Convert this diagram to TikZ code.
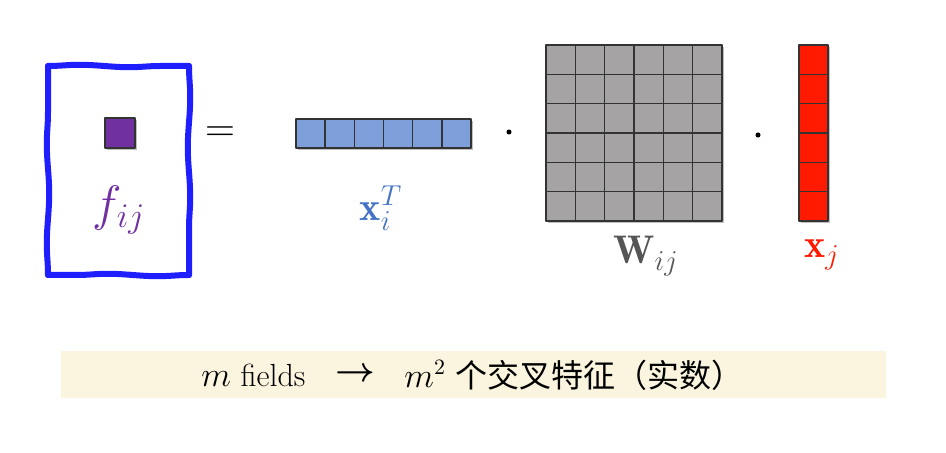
\documentclass[tikz,border=0pt]{standalone}
\usepackage{amsmath}
\usepackage{fontspec}
\newfontfamily\cjk{Noto Sans CJK SC}
\usetikzlibrary{decorations.pathmorphing}
\definecolor{frameblue}{HTML}{1E1EFF}
\definecolor{fpurple}{HTML}{7030A0}
\definecolor{rowblue}{HTML}{7F9FDB}
\definecolor{labblue}{HTML}{4472C4}
\definecolor{wgrey}{HTML}{A5A3A4}
\definecolor{labgrey}{HTML}{555555}
\definecolor{colred}{HTML}{FF1A00}
\definecolor{band}{HTML}{FBF5DF}
\tikzset{
  cell/.style={draw=black!80, line width=0.7pt},
  shade box/.style={fill=black, opacity=.25},
  wavy/.style={frameblue, line width=3pt, line cap=round, decorate, decoration={snake, segment length=50pt, amplitude=0.6pt}},
  lab/.style={font=\fontsize{20}{24}\selectfont, inner sep=0pt},
  bandtext/.style={inner sep=0pt, font=\fontsize{16}{19}\selectfont}
}
\begin{document}
\begin{tikzpicture}[x=0.5pt, y=-0.5pt, line join = round]
\useasboundingbox (0,0) rectangle (946,453);
\coordinate (F1) at (48,66);
\coordinate (F2) at (189,66);
\coordinate (F3) at (189,275);
\coordinate (F4) at (48,275);
\draw[wavy] (F1) -- (F2);
\draw[wavy] (F2) -- (F3);
\draw[wavy] (F3) -- (F4);
\draw[wavy] (F4) -- (F1);
\fill[shade box] (107,120) rectangle (137,150);
\draw[cell, fill=fpurple] (105,118) rectangle (135,148);
\node[lab, text=fpurple, font=\fontsize{23}{26}\selectfont] (fij) at (119,210) {$f_{ij}$};
\node[lab] (eq) at (220,134) {$=$};

\fill[shade box] (298,121) rectangle (473,150);
\draw[cell, fill=rowblue] (296,119) rectangle (471,148);
\foreach \i in {1,...,5}
    \draw[cell] (296+\i*29.17,119) -- ++(0,29);
\node[lab, text=labblue] (xi) at (381,208) {$\mathbf{x}_i^T$};
\node[circle, fill=black, inner sep=0.9pt] (dotA) at (509,132) {};

\fill[shade box] (548,47) rectangle (724,223);
\draw[cell, fill=wgrey] (546,45) rectangle (722,221);
\foreach \i in {1,...,5} {
    \draw[cell] (546+\i*29.33,45) -- ++(0,176);
    \draw[cell] (546,45+\i*29.33) -- ++(176,0);
}
\node[lab, text=labgrey] (wij) at (646,256) {$\mathbf{W}_{ij}$};
\node[circle, fill=black, inner sep=0.9pt] (dotB) at (758,135) {};

\fill[shade box] (801,47) rectangle (830,223);
\draw[cell, fill=colred] (799,45) rectangle (828,221);
\foreach \j in {1,...,5}
    \draw[cell] (799,45+\j*29.33) -- ++(29,0);
\node[lab, text=colred] (xj) at (822,255) {$\mathbf{x}_j$};

\fill[band] (61,351) rectangle (886,398);
\node[bandtext, anchor=west] (fields) at (201,375) {$m$ fields};
\node[bandtext] (arrow) at (355,375) {$\boldsymbol{\rightarrow}$};
\node[bandtext, anchor=west] (cross) at (404,375) {$m^2$ {\cjk 个交叉特征（实数）}};
\end{tikzpicture}
\end{document}
